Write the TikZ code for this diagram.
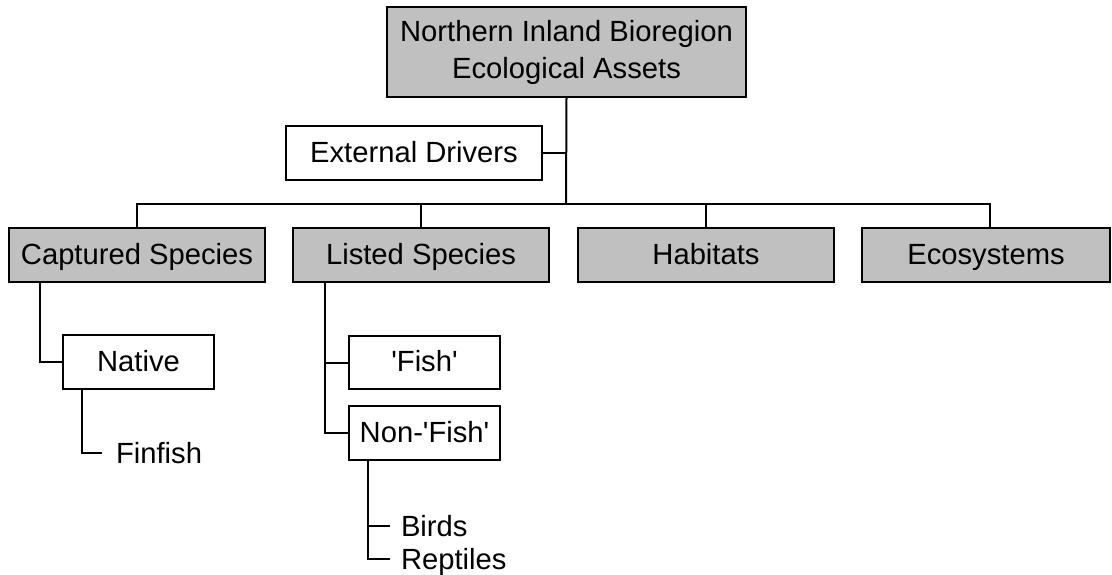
\documentclass[tikz,border=0pt]{standalone}
\usepackage{fontspec}
\setmainfont{Liberation Sans}
\definecolor{boxgray}{HTML}{C0C0C0}
\begin{document}
\begin{tikzpicture}[x=1pt,y=-1pt,line width=2pt,
  basebox/.style={draw=black, rectangle, inner sep=0pt, minimum height=54pt,
    font=\fontsize{29.2}{37}\selectfont},
  oneline/.style={text height=21pt, text depth=3pt},
  wbox/.style={basebox, oneline, fill=white},
  gbox/.style={basebox, oneline, fill=boxgray},
  leaf/.style={inner sep=0pt, anchor=west, text height=21pt, text depth=0pt,
    font=\fontsize{29.2}{37}\selectfont}]
\useasboundingbox (0,0) rectangle (1112,574);
% nodes
\node[basebox, fill=boxgray, minimum width=359pt, minimum height=90pt, align=center]
  (top) at (566.5,52) {Northern Inland Bioregion\\Ecological Assets};
\node[wbox, minimum width=256pt] (ext) at (414,153) {External Drivers};
\node[gbox, minimum width=256pt] (cap) at (137,255) {Captured Species};
\node[gbox, minimum width=256pt] (lst) at (421,255) {Listed Species};
\node[gbox, minimum width=256pt] (hab) at (706,255) {Habitats};
\node[gbox, minimum width=248pt] (eco) at (986,255) {Ecosystems};
\node[wbox, minimum width=151pt] (nat) at (138.5,362) {Native};
\node[wbox, minimum width=151pt, minimum height=53pt] (fish) at (424.5,362.5) {\textquotesingle Fish\textquotesingle};
\node[wbox, minimum width=151pt] (non) at (424.5,433) {Non-\textquotesingle Fish\textquotesingle};
\node[leaf] (fin) at (115,453) {Finfish};
\node[leaf] (bir) at (400,526) {Birds};
\node[leaf] (rep) at (400,559) {Reptiles};
% connectors
\coordinate (bus) at (566,204);
\draw (top.south) -- (bus);
\draw (ext.east) -- (ext.east -| bus);
\draw (cap.north) |- (bus);
\draw ([xshift=4pt]eco.north) |- (bus);
\draw (lst.north) -- (lst.north |- bus);
\draw (hab.north) -- (hab.north |- bus);
\draw ([xshift=-97pt]cap.south) |- (nat.west);
\draw ([xshift=-56.5pt]nat.south) |- ([xshift=-13pt]fin.west);
\coordinate (lx) at ([xshift=-96pt]lst.south);
\draw (lx) |- (non.west);
\draw (fish.west) -- (fish.west -| lx);
\coordinate (nx) at ([xshift=-56.5pt]non.south);
\draw (nx) |- ([xshift=-10pt]rep.west);
\draw ([xshift=-10pt]bir.west) -- (bir.west -| nx);
\end{tikzpicture}
\end{document}
